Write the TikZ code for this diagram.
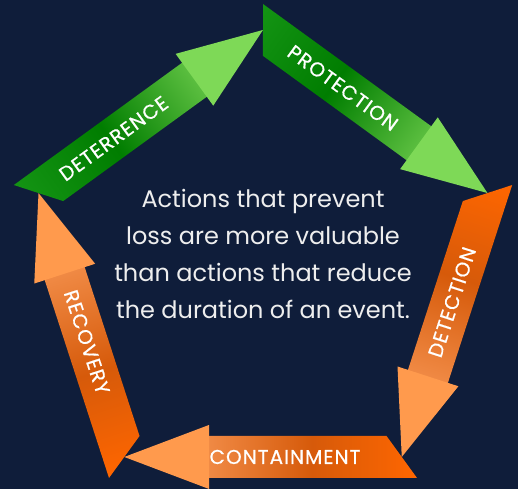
\documentclass[tikz,border=0pt]{standalone}
\usepackage{fontspec}
\setmainfont{Poppins}
\newfontfamily\stagefont{Poppins}[FakeBold=0.6, LetterSpace=5]

\definecolor{bgnavy}{HTML}{0F1D3A}
\definecolor{txtwhite}{HTML}{EEEEEE}
\definecolor{grnStart}{HTML}{149414}
\definecolor{grnMid}{HTML}{007D00}
\definecolor{grnEnd}{HTML}{5CBF40}
\definecolor{grnHead}{HTML}{7ED957}
\definecolor{orgStart}{HTML}{FF6600}
\definecolor{orgMid}{HTML}{D65A0A}
\definecolor{orgEnd}{HTML}{F08A45}
\definecolor{orgHead}{HTML}{FF9A4D}

\pgfdeclarehorizontalshading{greenband}{100bp}{color(0bp)=(grnStart); color(25bp)=(grnStart); color(50bp)=(grnMid); color(75bp)=(grnEnd); color(100bp)=(grnEnd)}
\pgfdeclarehorizontalshading{orangeband}{100bp}{color(0bp)=(orgStart); color(25bp)=(orgStart); color(50bp)=(orgMid); color(75bp)=(orgEnd); color(100bp)=(orgEnd)}

\tikzset{
    stagelabel/.style={text=white, font=\stagefont\fontsize{20}{20}\selectfont, inner sep=0pt},
    bigtext/.style={text=txtwhite, align=center, font=\fontsize{24}{37}\selectfont},
}

\begin{document}
\begin{tikzpicture}[x=1pt, y=1pt]
        \path[use as bounding box, fill=bgnavy] (0,0) rectangle (518,489);

        % bands: start at a corner of the pentagon, run along one side
        \foreach \ang/\shd/\txt/\pos/\flip in {90/greenband/PROTECTION/114/0,
                18/orangeband/DETECTION/130/180,
                -54/orangeband/CONTAINMENT/132/180,
                -126/orangeband/RECOVERY/136/180,
                162/greenband/DETERRENCE/108/0}{
            \begin{scope}[transform canvas={shift={(263,223)}, shift={(\ang:262)}, rotate=\ang-126}]
                \shade[shading=\shd] (0,0) -- (210,0) -- (210,-42) -- (30.5,-42) -- cycle;
                \node[stagelabel, rotate=\flip] (lbl-\txt) at (\pos,-21) {\txt};
            \end{scope}
        }

        % arrow heads on top of the next band
        \foreach \ang/\hd in {90/grnHead, 18/orgHead, -54/orgHead, -126/orgHead, 162/grnHead}{
            \begin{scope}[transform canvas={shift={(263,223)}, shift={(\ang:262)}, rotate=\ang-126}]
                \fill[\hd] (208,11) -- (292.7,-21) -- (208,-53) -- cycle;
            \end{scope}
        }

        \node[bigtext] (msg) at (263,235) {Actions that prevent\\loss are more valuable\\than actions that reduce\\the duration of an event.};

    \end{tikzpicture}
\end{document}
